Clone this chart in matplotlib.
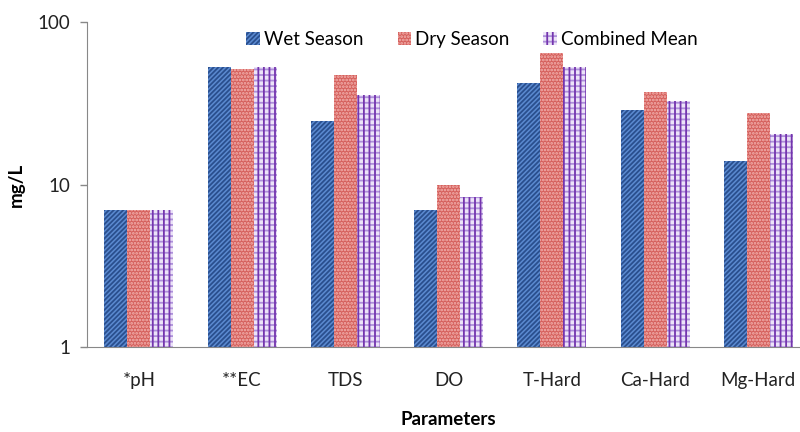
import matplotlib
matplotlib.use("Agg")
import matplotlib.pyplot as plt
from matplotlib.legend_handler import HandlerTuple
import numpy as np

categories = ["*pH", "**EC", "TDS", "DO", "T-Hard", "Ca-Hard", "Mg-Hard"]
wet = [7.0, 52.8, 24.6, 7.0, 42.3, 29.0, 14.0]
dry = [7.0, 52.0, 47.2, 10.0, 64.4, 37.1, 27.8]
combined = [7.0, 53.0, 35.5, 8.4, 53.1, 33.0, 20.6]
series_names = ["Wet Season", "Dry Season", "Combined Mean"]

plt.rcParams['font.family'] = ['Lato', 'DejaVu Sans']
plt.rcParams['hatch.linewidth'] = 1.3

fig = plt.figure(figsize=(8, 4.32), dpi=100)
ax = fig.add_axes([0.109, 0.197, 0.9035, 0.751])

x = np.arange(len(categories))
w = 0.223
base = 1.0

# Wet season: blue with dark diagonal stripes
b1 = ax.bar(x - w, np.array(wet) - base, w, bottom=base, linewidth=0,
            facecolor='#5B8AD0', edgecolor='#2A4F8E', hatch='///////')
# Dry season: red with fine light dots
b2 = ax.bar(x, np.array(dry) - base, w, bottom=base, linewidth=0,
            facecolor='#D5605C', edgecolor='#F3B3B0', hatch='.....')
# Combined mean: lavender bands with purple checks
b3a = ax.bar(x + w, np.array(combined) - base, w, bottom=base, linewidth=0,
             facecolor='#ECE3F8', edgecolor='#AE90DA', hatch='---')
b3b = ax.bar(x + w, np.array(combined) - base, w, bottom=base, linewidth=0,
             facecolor='none', edgecolor='#7435AE', hatch='|||')

ax.set_yscale('log')
ax.set_ylim(1, 100)
ax.set_xlim(-0.5, 6.5)
ax.set_yticks([1, 10, 100])
ax.set_yticklabels(["1", "10", "100"])
ax.yaxis.set_minor_locator(matplotlib.ticker.NullLocator())
ax.set_xticks(x)
ax.set_xticklabels(categories)
ax.tick_params(axis='x', length=0, pad=18, labelsize=13.5, colors='#222222')
ax.tick_params(axis='y', length=5, width=1, color='#888888', labelsize=13.5,
               labelcolor='#222222', pad=7)
for s in ['top', 'right']:
    ax.spines[s].set_visible(False)
ax.spines['left'].set_color('#888888')
ax.spines['bottom'].set_color('#888888')
ax.set_ylabel("mg/L", fontsize=13.5, fontweight='bold', labelpad=9)
ax.set_xlabel("Parameters", fontsize=13.5, fontweight='bold', labelpad=16)

leg = ax.legend([b1, b2, (b3a, b3b)], series_names,
                handler_map={tuple: HandlerTuple(ndivide=1, pad=0)},
                loc='center left', bbox_to_anchor=(0.21, 0.946), ncol=3, frameon=False,
                fontsize=13.5, handlelength=0.7, handleheight=0.7, columnspacing=1.8,
                handletextpad=0.25, borderaxespad=0)

fig.savefig("out.png", dpi=100)
